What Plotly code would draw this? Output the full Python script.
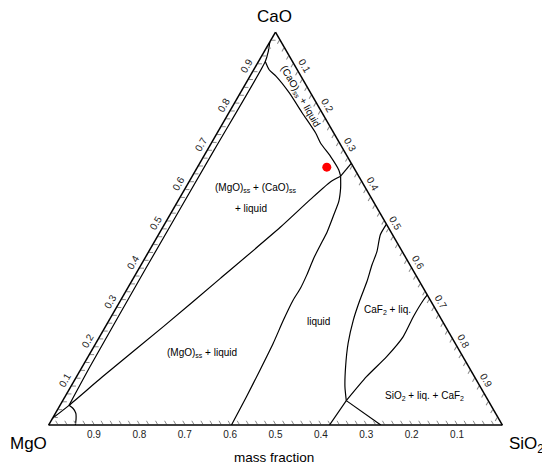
import plotly.graph_objects as go

# ---- data: mass fractions (CaO, MgO, SiO2) ----
# narrow strip boundary parallel to the MgO-CaO side
inner_cao = [0.975, 0.950, 0.925, 0.70, 0.40, 0.15, 0.05]
inner_mgo = [0.025, 0.041, 0.060, 0.285, 0.585, 0.833, 0.930]
inner_sio2 = [0.000, 0.009, 0.015, 0.015, 0.015, 0.017, 0.020]

# small arc near the MgO corner
arc_cao = [0.05, 0.042, 0.030, 0.015, 0.0]
arc_mgo = [0.93, 0.925, 0.925, 0.932, 0.941]
arc_sio2 = [0.02, 0.033, 0.045, 0.053, 0.059]

# (CaO)ss + liquid boundary
cao_cao = [0.925, 0.904, 0.887, 0.845, 0.794, 0.743, 0.717, 0.683, 0.649, 0.633]
cao_mgo = [0.060, 0.062, 0.055, 0.047, 0.044, 0.040, 0.042, 0.037, 0.036, 0.040]
cao_sio2 = [0.015, 0.034, 0.058, 0.108, 0.162, 0.217, 0.241, 0.280, 0.315, 0.327]

# junction to CaO-SiO2 side
j1e_cao = [0.633, 0.666]
j1e_mgo = [0.040, 0.000]
j1e_sio2 = [0.327, 0.334]

# (MgO)ss + liquid / (MgO)ss + (CaO)ss + liquid boundary
mgo_cao = [0.017, 0.050, 0.122, 0.251, 0.373, 0.503, 0.574, 0.619, 0.633]
mgo_mgo = [0.983, 0.930, 0.821, 0.621, 0.435, 0.238, 0.136, 0.069, 0.040]
mgo_sio2 = [0.000, 0.020, 0.057, 0.128, 0.192, 0.259, 0.290, 0.312, 0.327]

# liquid region left boundary
liq_cao = [0.633, 0.603, 0.569, 0.535, 0.492, 0.458, 0.425, 0.382, 0.348, 0.318, 0.267, 0.208, 0.140, 0.072, 0.0]
liq_mgo = [0.040, 0.055, 0.076, 0.104, 0.140, 0.172, 0.203, 0.240, 0.271, 0.302, 0.349, 0.401, 0.464, 0.528, 0.597]
liq_sio2 = [0.327, 0.342, 0.355, 0.361, 0.368, 0.370, 0.372, 0.378, 0.381, 0.380, 0.384, 0.391, 0.396, 0.400, 0.403]

# CaF2 + liq. boundary
caf_cao = [0.511, 0.484, 0.441, 0.407, 0.365, 0.318, 0.267, 0.208, 0.149, 0.098, 0.062]
caf_mgo = [0.000, 0.027, 0.056, 0.084, 0.116, 0.155, 0.195, 0.236, 0.271, 0.298, 0.313]
caf_sio2 = [0.489, 0.489, 0.503, 0.509, 0.519, 0.527, 0.538, 0.556, 0.580, 0.604, 0.625]

# lines from lower junction
jbl_cao = [0.062, 0.0]
jbl_mgo = [0.313, 0.381]
jbl_sio2 = [0.625, 0.619]

jbr_cao = [0.062, 0.0]
jbr_mgo = [0.313, 0.268]
jbr_sio2 = [0.625, 0.732]

jr_cao = [0.062, 0.123, 0.174, 0.225, 0.276, 0.318, 0.331]
jr_mgo = [0.313, 0.238, 0.168, 0.106, 0.058, 0.015, 0.000]
jr_sio2 = [0.625, 0.639, 0.658, 0.669, 0.666, 0.667, 0.669]

# experimental composition (red point)
pt_cao = [0.656]
pt_mgo = [0.059]
pt_sio2 = [0.285]

tick_vals = [round(0.02 * i, 2) for i in range(1, 50)]
tick_text = [("%.1f" % v) if abs(v * 10 - round(v * 10)) < 1e-6 else "" for v in tick_vals]

fig = go.Figure()
curves = [
    (inner_cao, inner_mgo, inner_sio2),
    (arc_cao, arc_mgo, arc_sio2),
    (cao_cao, cao_mgo, cao_sio2),
    (j1e_cao, j1e_mgo, j1e_sio2),
    (mgo_cao, mgo_mgo, mgo_sio2),
    (liq_cao, liq_mgo, liq_sio2),
    (caf_cao, caf_mgo, caf_sio2),
    (jbl_cao, jbl_mgo, jbl_sio2),
    (jbr_cao, jbr_mgo, jbr_sio2),
    (jr_cao, jr_mgo, jr_sio2),
]
for a, b, c in curves:
    fig.add_trace(go.Scatterternary(a=a, b=b, c=c, mode="lines",
                                    line=dict(color="black", width=1.2, shape="spline", smoothing=0.6),
                                    hoverinfo="skip", showlegend=False))
fig.add_trace(go.Scatterternary(a=pt_cao, b=pt_mgo, c=pt_sio2, mode="markers",
                                marker=dict(color="#ff0000", size=9), showlegend=False))

FONT = "Liberation Sans, Arial, sans-serif"
axis_common = dict(
    tickmode="array", tickvals=tick_vals, ticktext=tick_text,
    ticks="inside", ticklen=4, tickcolor="#888888", tickwidth=1,
    showgrid=False, linecolor="black", linewidth=1.5,
    tickfont=dict(family=FONT, size=10, color="#222222"),
    title=dict(text=""), min=0,
)
# page body has an 8px margin: figure is 542x460 placed at (8, 8)
fig.update_layout(
    width=542, height=460,
    margin=dict(l=40, r=47, t=24, b=43),
    paper_bgcolor="white",
    font=dict(family=FONT, color="black"),
    ternary=dict(
        sum=1, bgcolor="white",
        aaxis=dict(axis_common, tickangle=-60),
        baxis=dict(axis_common, tickangle=0),
        caxis=dict(axis_common, tickangle=60),
    ),
)

def px(x, y):
    return (x - 48) / 455.0, (425 - y) / 393.0

ann = []
def add(text, x, y, size=10, angle=0):
    X, Y = px(x, y)
    ann.append(dict(text=text, x=X, y=Y, xref="paper", yref="paper", showarrow=False,
                    font=dict(family=FONT, size=size, color="black"), textangle=angle,
                    xanchor="center", yanchor="middle"))

add("CaO", 274, 16, 17)
add("MgO", 28, 443, 17)
add("SiO<sub>2</sub>", 526, 445, 17)
add("mass fraction", 274, 457, 13.5)
add("(MgO)<sub>ss</sub> + (CaO)<sub>ss</sub>", 255, 188, 10)
add("+ liquid", 251, 208, 10)
add("(MgO)<sub>ss</sub> + liquid", 202, 353, 10)
add("liquid", 318, 321, 10)
add("CaF<sub>2</sub> + liq.", 387, 310, 10)
add("SiO<sub>2</sub> + liq. + CaF<sub>2</sub>", 424, 396, 10)
add("(CaO)<sub>ss</sub> + liquid", 300, 96, 10, 60)
fig.update_layout(annotations=ann)

fig.write_html("out.html")
